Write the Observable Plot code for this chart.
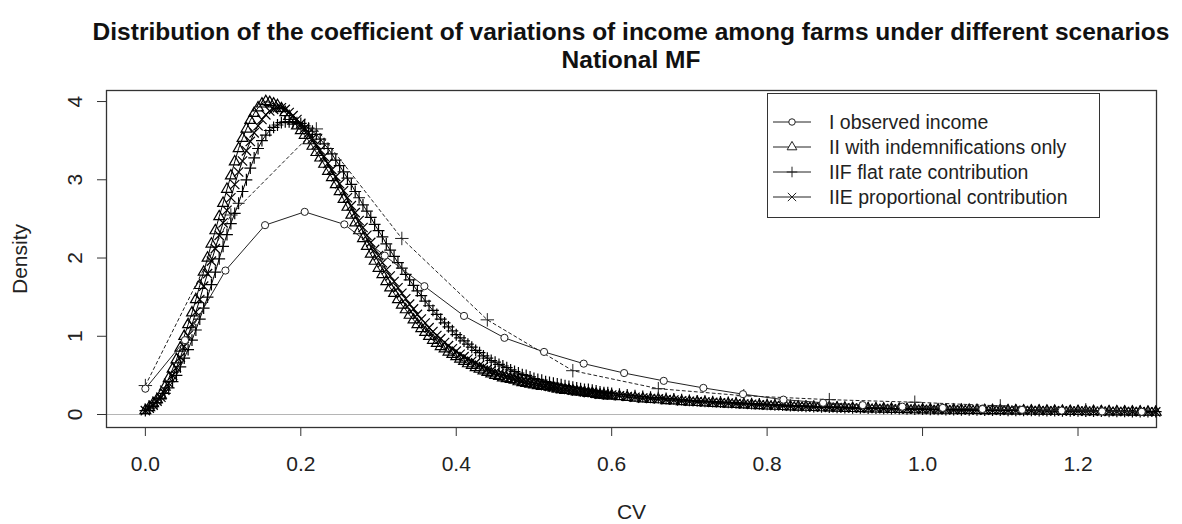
<!DOCTYPE html>
<html><head><meta charset="utf-8">
<script src="https://cdn.jsdelivr.net/npm/d3@7"></script>
<script src="https://cdn.jsdelivr.net/npm/@observablehq/plot@0.6"></script>
<style>
body{margin:0;background:#fff;font-family:"Liberation Sans",Arial,sans-serif;}
#wrap{position:relative;width:1182px;height:524px;overflow:hidden;background:#fff;}
#title{box-sizing:border-box;height:75px;padding:18px 0 0 80px;text-align:center;font-weight:bold;font-size:24.5px;line-height:28px;color:#111;white-space:nowrap;}
#legend{position:absolute;left:767px;top:93px;width:333px;height:125px;box-sizing:border-box;border:1.3px solid #333;background:#fff;}
.lrow{position:absolute;left:0;height:24px;width:330px;}
.lrow svg{position:absolute;left:0;top:0;}
.lrow span{position:absolute;left:61px;top:0;line-height:24px;font-size:19.5px;color:#222;white-space:nowrap;}
</style></head>
<body>
<div id="wrap">
<div id="title"></div>
<div id="chart"></div>
<div id="legend"></div>
</div>
<script>
// ---- text ----
const titleLines = ["Distribution of the coefficient of variations of income among farms under different scenarios", "National MF"];
const xLabel = "CV";
const yLabel = "Density";
const xTicks = [0, 0.2, 0.4, 0.6, 0.8, 1.0, 1.2];
const yTicks = [0, 1, 2, 3, 4];
const legendLabels = ["I observed income", "II with indemnifications only", "IIF flat rate contribution", "IIE proportional contribution"];
const legendSymbols = ["circle", "triangle", "plus", "times"];

// ---- series I (observed income), sparse points ----
const xI = [0, 0.051, 0.103, 0.154, 0.205, 0.256, 0.308, 0.359, 0.410, 0.462, 0.513, 0.564, 0.616, 0.667, 0.718, 0.769, 0.821, 0.872, 0.923, 0.974, 1.026, 1.077, 1.128, 1.179, 1.231, 1.282];
const yI = [0.33, 0.95, 1.84, 2.42, 2.59, 2.43, 2.03, 1.64, 1.26, 0.98, 0.80, 0.65, 0.53, 0.43, 0.34, 0.26, 0.19, 0.15, 0.12, 0.10, 0.085, 0.07, 0.06, 0.05, 0.04, 0.035];

// ---- dashed sparse curve ----
const xD = [0, 0.11, 0.22, 0.33, 0.44, 0.55, 0.66, 0.77, 0.88, 0.99, 1.10, 1.21];
const yD = [0.37, 2.55, 3.65, 2.25, 1.21, 0.56, 0.33, 0.24, 0.19, 0.157, 0.11, 0.06];

// ---- dense density curves: step 0.005 on [0,0.6], then 0.01 on [0.61,1.30] ----
const yII = [
0.05,0.09,0.14,0.19,0.25,0.35,0.46,0.58,0.70,0.85,
1.00,1.15,1.30,1.47,1.65,1.82,2.00,2.18,2.35,2.53,
2.70,2.88,3.05,3.23,3.40,3.53,3.65,3.76,3.85,3.92,
3.97,4.00,3.99,3.97,3.95,3.91,3.86,3.81,3.75,3.69,
3.63,3.57,3.50,3.43,3.35,3.28,3.20,3.11,3.03,2.94,
2.85,2.75,2.65,2.55,2.45,2.35,2.25,2.15,2.05,1.96,
1.87,1.79,1.70,1.62,1.55,1.47,1.40,1.34,1.27,1.21,
1.15,1.10,1.05,1.00,0.95,0.91,0.87,0.84,0.80,0.77,
0.74,0.71,0.68,0.65,0.63,0.60,0.58,0.56,0.54,0.52,
0.50,0.49,0.47,0.46,0.45,0.44,0.42,0.41,0.40,0.39,
0.38,0.37,0.36,0.36,0.35,0.34,0.33,0.32,0.31,0.31,
0.30,0.29,0.29,0.28,0.27,0.27,0.26,0.25,0.25,0.24,
0.24,
0.23,0.22,0.21,0.20,0.195,0.19,0.18,0.175,0.165,0.16,
0.155,0.15,0.145,0.14,0.135,0.13,0.125,0.12,0.115,0.11,
0.107,0.104,0.10,0.097,0.094,0.091,0.088,0.085,0.083,0.08,
0.078,0.076,0.074,0.072,0.070,0.068,0.066,0.064,0.062,0.06,
0.059,0.058,0.057,0.056,0.055,0.054,0.053,0.052,0.051,0.05,
0.049,0.048,0.047,0.046,0.045,0.044,0.043,0.042,0.041,0.04,
0.039,0.038,0.037,0.036,0.035,0.034,0.033,0.032,0.031,0.03];
const yIIF = [
0.05,0.08,0.11,0.15,0.20,0.27,0.34,0.42,0.50,0.61,
0.72,0.83,0.95,1.08,1.22,1.36,1.50,1.66,1.82,1.99,
2.15,2.30,2.44,2.57,2.70,2.85,3.00,3.15,3.28,3.40,
3.50,3.57,3.63,3.67,3.70,3.73,3.74,3.74,3.74,3.73,
3.72,3.69,3.66,3.62,3.58,3.52,3.46,3.40,3.33,3.25,
3.18,3.10,3.02,2.94,2.85,2.77,2.68,2.60,2.52,2.43,
2.35,2.27,2.18,2.10,2.02,1.94,1.87,1.79,1.72,1.65,
1.58,1.52,1.45,1.39,1.33,1.28,1.22,1.17,1.12,1.07,
1.02,0.98,0.94,0.90,0.86,0.82,0.79,0.75,0.72,0.69,
0.67,0.64,0.62,0.60,0.57,0.55,0.53,0.51,0.50,0.48,
0.46,0.45,0.44,0.42,0.41,0.40,0.39,0.38,0.37,0.36,
0.35,0.34,0.33,0.32,0.32,0.31,0.30,0.29,0.28,0.28,
0.27,
0.26,0.25,0.24,0.23,0.22,0.215,0.205,0.20,0.19,0.18,
0.175,0.17,0.165,0.16,0.155,0.15,0.145,0.14,0.135,0.13,
0.125,0.12,0.115,0.11,0.106,0.102,0.099,0.096,0.093,0.09,
0.087,0.085,0.083,0.081,0.079,0.077,0.075,0.073,0.071,0.069,
0.067,0.065,0.063,0.062,0.061,0.06,0.059,0.058,0.057,0.056,
0.055,0.054,0.053,0.052,0.051,0.05,0.049,0.048,0.047,0.046,
0.045,0.044,0.043,0.042,0.041,0.04,0.039,0.038,0.037,0.036];
const yIIE = [
0.05,0.08,0.12,0.17,0.22,0.31,0.40,0.50,0.60,0.73,
0.87,1.01,1.15,1.31,1.47,1.64,1.80,1.96,2.12,2.29,
2.45,2.61,2.77,2.94,3.10,3.24,3.37,3.49,3.60,3.69,
3.77,3.83,3.88,3.90,3.92,3.92,3.90,3.86,3.82,3.77,
3.72,3.66,3.60,3.53,3.45,3.38,3.30,3.21,3.13,3.04,
2.95,2.86,2.77,2.67,2.58,2.48,2.39,2.29,2.20,2.11,
2.03,1.94,1.85,1.77,1.70,1.62,1.55,1.48,1.41,1.35,
1.28,1.22,1.17,1.11,1.06,1.01,0.97,0.92,0.88,0.84,
0.81,0.77,0.74,0.71,0.68,0.66,0.63,0.61,0.58,0.56,
0.54,0.52,0.51,0.49,0.48,0.46,0.45,0.43,0.42,0.41,
0.40,0.39,0.38,0.37,0.36,0.35,0.34,0.33,0.33,0.32,
0.31,0.30,0.30,0.29,0.28,0.28,0.27,0.26,0.26,0.25,
0.25,
0.24,0.23,0.22,0.21,0.205,0.20,0.19,0.185,0.175,0.17,
0.165,0.16,0.155,0.15,0.145,0.14,0.135,0.13,0.125,0.12,
0.116,0.112,0.108,0.104,0.10,0.097,0.094,0.091,0.088,0.085,
0.083,0.081,0.079,0.077,0.075,0.073,0.071,0.069,0.067,0.065,
0.063,0.062,0.061,0.06,0.059,0.058,0.057,0.056,0.055,0.054,
0.053,0.052,0.051,0.05,0.049,0.048,0.047,0.046,0.045,0.044,
0.043,0.042,0.041,0.04,0.039,0.038,0.037,0.036,0.035,0.034];

// evaluation grid of the density estimates
const xDense = d3.range(121).map(i => +(i * 0.005).toFixed(3)).concat(d3.range(70).map(i => +(0.61 + i * 0.01).toFixed(2)));

const ink = "#000";
const symR = {circle: 3.6, triangle: 4.0, plus: 3.9, times: 4.3};

const toRows = (xs, ys) => xs.map((x, i) => ({x, y: ys[i]}));
const rowsI = toRows(xI, yI);
const rowsD = toRows(xD, yD);
const dense = [
  {rows: toRows(xDense, yII), symbol: "triangle"},
  {rows: toRows(xDense, yIIE), symbol: "times"},
  {rows: toRows(xDense, yIIF), symbol: "plus"}
];

// title
document.getElementById("title").innerHTML = titleLines.map(t => `<div>${t}</div>`).join("");

const marks = [
  Plot.ruleY([0], {stroke: "#b5b5b5", strokeWidth: 1}),
  Plot.frame({stroke: "#333", strokeWidth: 1.3}),
  Plot.axisX({ticks: xTicks, tickSize: 9, tickPadding: 20, tickFormat: d => d.toFixed(1), fontSize: 21, label: null, stroke: "#333", fill: "#222"}),
  Plot.axisY({ticks: yTicks, tickSize: 9, tickPadding: 16, tickRotate: -90, tickFormat: d => String(d), fontSize: 21, label: null, stroke: "#333", fill: "#222"}),
  Plot.text([xLabel], {text: d => d, frameAnchor: "bottom", textAnchor: "middle", dy: 85, lineAnchor: "middle", fontSize: 21, fill: "#222"}),
  Plot.text([yLabel], {text: d => d, frameAnchor: "left", textAnchor: "middle", dx: -86, rotate: -90, lineAnchor: "middle", fontSize: 21, fill: "#222"})
];
for (const s of dense) {
  marks.push(Plot.line(s.rows, {x: "x", y: "y", stroke: ink, strokeWidth: 1}));
  marks.push(Plot.dot(s.rows, {x: "x", y: "y", symbol: () => s.symbol, r: symR[s.symbol], stroke: ink, strokeWidth: 1.2, fill: "none"}));
}
marks.push(Plot.line(rowsD, {x: "x", y: "y", stroke: "#222", strokeWidth: 1, strokeDasharray: "3,3"}));
marks.push(Plot.dot(rowsD, {x: "x", y: "y", symbol: () => "plus", r: 4.4, stroke: "#222", strokeWidth: 1}));
marks.push(Plot.line(rowsI, {x: "x", y: "y", stroke: "#222", strokeWidth: 1}));
marks.push(Plot.dot(rowsI, {x: "x", y: "y", symbol: () => "circle", r: symR.circle, stroke: "#222", strokeWidth: 1, fill: "white"}));

const chart = Plot.plot({
  width: 1182, height: 449,
  marginTop: 15, marginBottom: 97, marginLeft: 106, marginRight: 26,
  x: {domain: [-0.05, 1.301]},
  y: {domain: [-0.166, 4.141]},
  symbol: {type: "identity"},
  style: {fontFamily: "'Liberation Sans', Arial, sans-serif", fontSize: "21px", color: "#222", background: "#fff", overflow: "visible"},
  marks
});
document.getElementById("chart").appendChild(chart);

// legend
const leg = d3.select("#legend");
const rowTops = [16, 41, 66, 91];
const symMap = {circle: d3.symbolCircle, triangle: d3.symbolTriangle, plus: d3.symbolPlus, times: d3.symbolTimes};
legendLabels.forEach((lab, i) => {
  const row = leg.append("div").attr("class", "lrow").style("top", rowTops[i] + "px");
  const svg = row.append("svg").attr("width", 50).attr("height", 24);
  svg.append("line").attr("x1", 5).attr("x2", 43).attr("y1", 12).attr("y2", 12).attr("stroke", "#222").attr("stroke-width", 1);
  const rr = symR[legendSymbols[i]] * 0.9;
  svg.append("path").attr("transform", "translate(24,12)")
    .attr("d", d3.symbol(symMap[legendSymbols[i]], Math.PI * rr * rr)())
    .attr("fill", legendSymbols[i] === "circle" || legendSymbols[i] === "triangle" ? "#fff" : "none")
    .attr("stroke", "#222").attr("stroke-width", 1);
  row.append("span").text(lab);
});
</script>
</body></html>
